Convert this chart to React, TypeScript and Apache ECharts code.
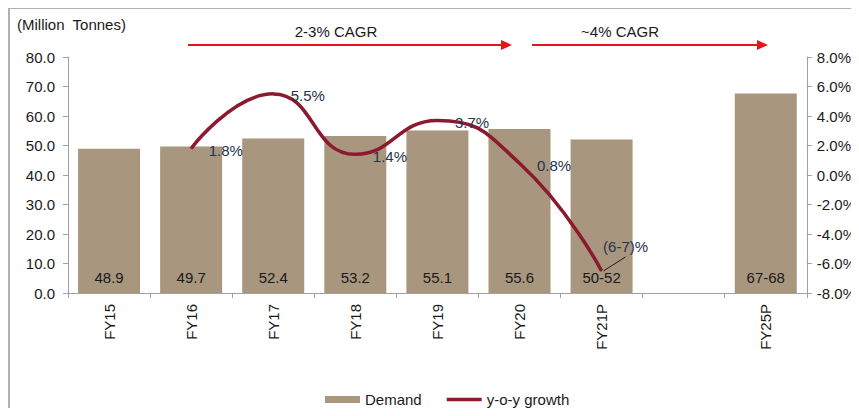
import React, { useEffect, useRef } from "react";
import * as echarts from "echarts";

const categories = ["FY15", "FY16", "FY17", "FY18", "FY19", "FY20", "FY21P", "", "FY25P"];
const demand = [48.9, 49.7, 52.4, 53.2, 55.1, 55.6, 52, null, 67.6];
const demandLabels = ["48.9", "49.7", "52.4", "53.2", "55.1", "55.6", "50-52", "", "67-68"];
const growth = [null, 1.8, 5.5, 1.4, 3.7, 0.8, -6.5, null, null];
const growthLabels = ["", "1.8%", "5.5%", "1.4%", "3.7%", "0.8%", "(6-7)%", "", ""];
const leftTicks = { min: 0, max: 80, interval: 10 };
const rightTicks = { min: -8, max: 8, interval: 2 };

const FONT = "'Liberation Sans', Arial, sans-serif";
const FS = 15;
const BAR = "#a8967f";
const LINE = "#8b1a2e";
const RED = "#e3161c";
const AXIS = "#a0a0a0";
const TXT = "#1a1a1a";
const BORDER = "#b0b0b0";

export default function App() {
  const ref = useRef<HTMLDivElement>(null);
  useEffect(() => {
    if (!ref.current) return;
    const chart = echarts.init(ref.current, undefined, { renderer: "svg" });
    const arrow = (x1: number, x2: number, y: number) => [
      { type: "line", shape: { x1, y1: y, x2: x2 - 9, y2: y }, style: { stroke: RED, lineWidth: 2 } },
      {
        type: "polygon",
        shape: { points: [[x2 - 11, y - 5], [x2, y], [x2 - 11, y + 5]] },
        style: { fill: RED },
      },
    ];
    const baseGraphic: any[] = [
      {
        type: "text",
        x: 17,
        y: 17,
        style: { text: "(Million  Tonnes)", font: `${FS}px ${FONT}`, fill: TXT },
      },
      {
        type: "text",
        x: 336,
        y: 31,
        style: { text: "2-3% CAGR", font: `${FS}px ${FONT}`, fill: TXT, align: "center", verticalAlign: "middle" },
      },
      {
        type: "text",
        x: 620,
        y: 31,
        style: { text: "~4% CAGR", font: `${FS}px ${FONT}`, fill: TXT, align: "center", verticalAlign: "middle" },
      },
      ...arrow(188, 512, 45),
      ...arrow(532, 768, 45),
    ];
    const option: any = {
      animation: false,
      textStyle: { fontFamily: FONT, fontSize: FS, color: TXT },
      grid: { left: 68, right: 52, top: 57, bottom: 123, containLabel: false },
      legend: {
        left: 320,
        top: 387,
        itemWidth: 35,
        itemHeight: 7,
        itemGap: 25,
        textStyle: { fontFamily: FONT, fontSize: FS, color: TXT },
        data: [
          { name: "Demand", icon: "rect" },
          { name: "y-o-y growth", icon: "path://M0,0L40,0L40,4L0,4Z" },
        ],
      },
      xAxis: {
        type: "category",
        data: categories,
        boundaryGap: true,
        axisLine: { lineStyle: { color: AXIS } },
        axisTick: { show: true, alignWithLabel: false, length: 5, lineStyle: { color: AXIS } },
        axisLabel: { rotate: 90, interval: 0, margin: 11, fontFamily: FONT, fontSize: FS, color: TXT },
      },
      yAxis: [
        {
          type: "value",
          ...leftTicks,
          axisLine: { show: true, lineStyle: { color: AXIS } },
          axisTick: { show: true, length: 5, lineStyle: { color: AXIS } },
          splitLine: { show: false },
          axisLabel: {
            margin: 13,
            fontFamily: FONT,
            fontSize: FS,
            color: TXT,
            formatter: (v: number) => v.toFixed(1),
          },
        },
        {
          type: "value",
          ...rightTicks,
          axisLine: { show: true, lineStyle: { color: AXIS } },
          axisTick: { show: true, length: 5, lineStyle: { color: AXIS } },
          splitLine: { show: false },
          axisLabel: {
            margin: 10,
            fontFamily: FONT,
            fontSize: FS,
            color: TXT,
            formatter: (v: number) => v.toFixed(1) + "%",
          },
        },
      ],
      series: [
        {
          name: "Demand",
          type: "bar",
          yAxisIndex: 0,
          data: demand,
          barWidth: 62,
          itemStyle: { color: BAR },
          label: {
            show: true,
            position: "insideBottom",
            distance: 8,
            fontFamily: FONT,
            fontSize: FS,
            color: TXT,
            formatter: (p: any) => demandLabels[p.dataIndex],
          },
        },
        {
          name: "y-o-y growth",
          type: "line",
          yAxisIndex: 1,
          data: growth.map((v, i) =>
            v === null ? null : i === 6 ? { value: v, label: { offset: [-4, -24] } } : { value: v }
          ),
          smooth: 0.5,
          connectNulls: false,
          symbol: "circle",
          symbolSize: 1,
          showSymbol: true,
          itemStyle: { color: LINE },
          lineStyle: { color: LINE, width: 3.5 },
          z: 5,
          label: {
            show: true,
            position: "right",
            distance: 5,
            offset: [12, 2],
            fontFamily: FONT,
            fontSize: FS,
            color: "#23344d",
            formatter: (p: any) => growthLabels[p.dataIndex],
          },
        },
      ],
      graphic: baseGraphic,
    };
    chart.setOption(option);
    const pt = chart.convertToPixel({ seriesIndex: 1 }, [6, growth[6] as number]) as any;
    if (pt && isFinite(pt[0]) && isFinite(pt[1])) {
      chart.setOption({
        graphic: [
          ...baseGraphic,
          {
            type: "line",
            z: 100,
            shape: { x1: pt[0] + 2, y1: pt[1], x2: pt[0] + 24, y2: pt[1] - 14 },
            style: { stroke: "#1a1a1a", lineWidth: 1 },
          },
        ],
      });
    }
    return () => chart.dispose();
  }, []);
  return (
    <div style={{ position: "relative", width: 859, height: 416, margin: -8, overflow: "hidden" }}>
      <div ref={ref} style={{ position: "absolute", left: 0, top: 0, width: 859, height: 416 }} />
      <div
        style={{
          position: "absolute",
          left: 8,
          top: 7,
          width: 870,
          height: 403,
          borderTop: `2px solid ${BORDER}`,
          borderLeft: `2px solid ${BORDER}`,
          borderBottom: `2px solid ${BORDER}`,
          pointerEvents: "none",
        }}
      />
    </div>
  );
}
